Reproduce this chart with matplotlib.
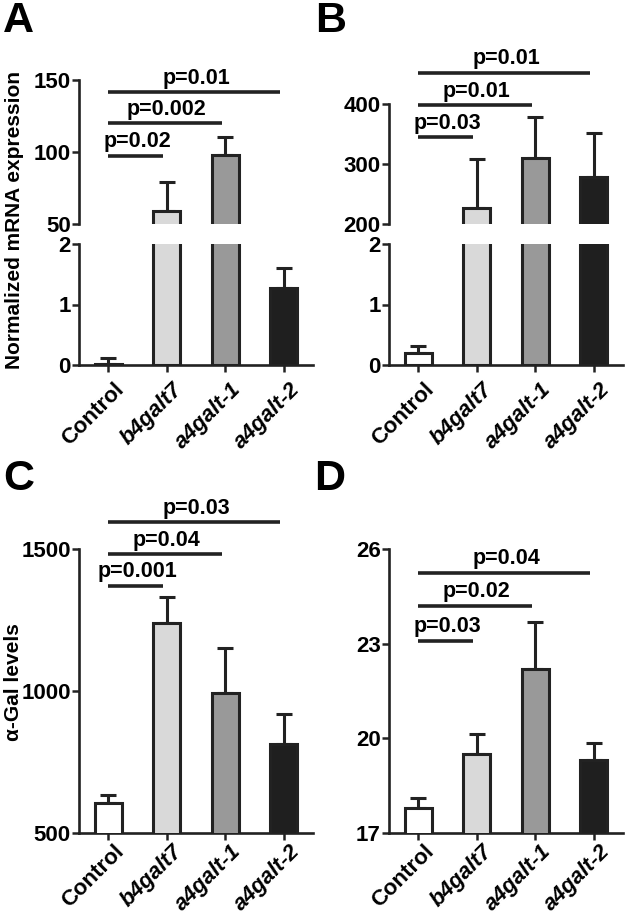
import matplotlib
matplotlib.use("Agg")
import matplotlib.pyplot as plt
import matplotlib.transforms as mtransforms
import numpy as np

plt.rcParams['font.family'] = ['Liberation Sans', 'DejaVu Sans']
plt.rcParams['font.weight'] = 'bold'

categories = ["Control", "b4galt7", "a4galt-1", "a4galt-2"]
italic_flags = [False, True, True, True]
bar_colors = ["#ffffff", "#d9d9d9", "#999999", "#1f1f1f"]
edge_color = "#222222"

# Panel A: normalized mRNA (broken axis 0-2 / 50-150)
a_vals = [0.01, 59, 98, 1.27]
a_errs = [0.11, 20, 12.5, 0.33]
a_sig = [(1, 97.5, "p=0.02"), (2, 120, "p=0.002"), (3, 141.5, "p=0.01")]

# Panel B: normalized mRNA (broken axis 0-2 / 200-400)
b_vals = [0.2, 226, 310, 278]
b_errs = [0.11, 82, 68, 73]
b_sig = [(1, 344.5, "p=0.03"), (2, 398, "p=0.01"), (3, 452, "p=0.01")]

# Panel C: alpha-Gal levels
c_vals = [606, 1240, 993, 813]
c_errs = [28, 90, 158, 106]
c_sig = [(1, 1370, "p=0.001"), (2, 1482, "p=0.04"), (3, 1595, "p=0.03")]

# Panel D
d_vals = [17.8, 19.5, 22.2, 19.3]
d_errs = [0.32, 0.65, 1.5, 0.55]
d_sig = [(1, 23.1, "p=0.03"), (2, 24.2, "p=0.02"), (3, 25.25, "p=0.04")]

W, H = 625, 917
fig = plt.figure(figsize=(W / 100, H / 100), dpi=100)


def ax_at(x0, y0, x1, y1):
    return fig.add_axes([x0 / W, 1 - y1 / H, (x1 - x0) / W, (y1 - y0) / H])


LW = 2.2
TICK_FS = 16
XLAB_FS = 16
P_FS = 15.5


def style(ax, show_bottom=True):
    ax.spines['right'].set_visible(False)
    ax.spines['top'].set_visible(False)
    ax.spines['bottom'].set_visible(show_bottom)
    for s in ax.spines.values():
        s.set_linewidth(1.9)
        s.set_color(edge_color)
    ax.tick_params(axis='y', direction='out', length=5, width=1.8, color=edge_color,
                   labelsize=TICK_FS, pad=1)
    ax.tick_params(axis='x', direction='out', length=5, width=1.8, color=edge_color,
                   labelsize=XLAB_FS, pad=13)
    for lab in ax.get_yticklabels():
        lab.set_fontweight('bold')
    ax.set_xlim(-0.5, 3.5)
    ax.patch.set_alpha(0)


def draw_bars(ax, vals, errs):
    x = np.arange(len(vals))
    ax.bar(x, vals, width=0.47, color=bar_colors, edgecolor=edge_color,
           linewidth=LW, zorder=3)
    ax.errorbar(x, vals, yerr=[np.zeros(len(errs)), errs], fmt='none',
                ecolor=edge_color, elinewidth=LW, capsize=5.5, capthick=LW, zorder=2)


label_axes = []


def xlabels(ax):
    ax.set_xticks(np.arange(len(categories)))
    ax.set_xticklabels(categories)
    off = mtransforms.ScaledTranslation(12 / 72, 0, fig.dpi_scale_trans)
    for lab, it in zip(ax.get_xticklabels(), italic_flags):
        lab.set_rotation(45)
        lab.set_ha('right')
        lab.set_va('baseline')
        lab.set_rotation_mode('anchor')
        lab.set_fontweight('bold')
        lab.set_fontsize(XLAB_FS)
        if it:
            lab.set_fontstyle('italic')
        lab.set_transform(lab.get_transform() + off)
    label_axes.append(ax)


def sig_lines(ax, sig):
    for j, y, txt in sig:
        ax.plot([0, j - 0.06], [y, y], color=edge_color, lw=2.6,
                solid_capstyle='butt', clip_on=False, zorder=5)
        ax.annotate(txt, xy=(j / 2, y), xytext=(0, 2.5), textcoords='offset points',
                    ha='center', va='bottom', fontsize=P_FS, fontweight='bold',
                    annotation_clip=False)


def broken_panel(x0, x1, up_top, vals, errs, sig, up_lim, up_ticks):
    ax_up = ax_at(x0, up_top, x1, 224)
    ax_lo = ax_at(x0, 244, x1, 365)
    for ax in (ax_up, ax_lo):
        draw_bars(ax, vals, errs)
    ax_up.set_ylim(*up_lim)
    ax_up.set_yticks(up_ticks)
    ax_lo.set_ylim(0, 2)
    ax_lo.set_yticks([0, 1, 2])
    style(ax_up, show_bottom=False)
    style(ax_lo)
    ax_up.set_xticks([])
    xlabels(ax_lo)
    for lab in ax_up.get_yticklabels() + ax_lo.get_yticklabels():
        lab.set_fontweight('bold')
    sig_lines(ax_up, sig)
    return ax_up, ax_lo


axA_up, axA_lo = broken_panel(79, 313, 80, a_vals, a_errs, a_sig, (50, 150), [50, 100, 150])
axB_up, axB_lo = broken_panel(389, 623, 104, b_vals, b_errs, b_sig, (200, 400), [200, 300, 400])

axC = ax_at(79, 549, 313, 833)
draw_bars(axC, c_vals, c_errs)
axC.set_ylim(500, 1500)
axC.set_yticks([500, 1000, 1500])
style(axC)
xlabels(axC)
for lab in axC.get_yticklabels():
    lab.set_fontweight('bold')
sig_lines(axC, c_sig)

axD = ax_at(389, 549, 623, 833)
draw_bars(axD, d_vals, d_errs)
axD.set_ylim(17, 26)
axD.set_yticks([17, 20, 23, 26])
style(axD)
xlabels(axD)
for lab in axD.get_yticklabels():
    lab.set_fontweight('bold')
sig_lines(axD, d_sig)

fig.text(15 / W, 1 - 220 / H, "Normalized mRNA expression", rotation=90,
         ha='center', va='center', fontsize=15, fontweight='bold')
fig.text(14 / W, 1 - 682 / H, "α-Gal levels", rotation=90,
         ha='center', va='center', fontsize=15, fontweight='bold')

for letter, px, py in [("A", 3, 1), ("B", 315, 1), ("C", 3, 459), ("D", 314, 459)]:
    fig.text(px / W, 1 - py / H, letter, ha='left', va='top', fontsize=31,
             fontweight='bold')

# keep rotated category labels inside the figure (shift a panel's labels up if needed)
fig.canvas.draw()
renderer = fig.canvas.get_renderer()
for ax in label_axes:
    labs = ax.get_xticklabels()
    lowest = min(l.get_window_extent(renderer).y0 for l in labs)
    if lowest < 2:
        shift = 2 - lowest
        for l in labs:
            l.set_transform(l.get_transform() + mtransforms.Affine2D().translate(0, shift))

fig.savefig("out.png", dpi=100, facecolor='white')
